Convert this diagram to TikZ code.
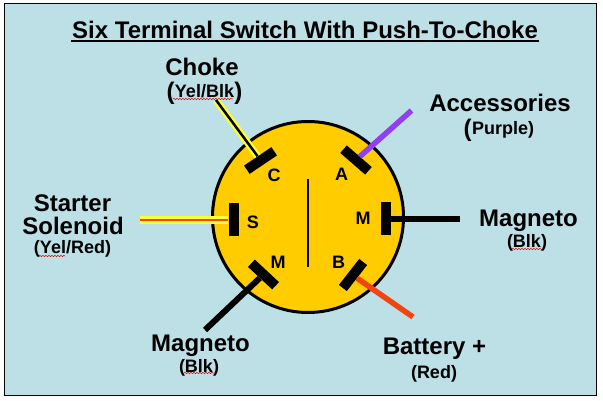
\documentclass[tikz,border=0pt]{standalone}
\usepackage{fontspec}
\setmainfont{Liberation Sans}
\usetikzlibrary{decorations.pathmorphing}
\definecolor{panelblue}{HTML}{BCE0E6}
\definecolor{switchyellow}{HTML}{FFCC00}
\definecolor{wirepurple}{HTML}{9040F0}
\definecolor{wirered}{HTML}{F04510}
\definecolor{wireyellow}{HTML}{FFFF33}
\newcommand{\spellmark}[3]{\draw[red!80!black, line width=0.5pt, decorate, decoration={snake, amplitude=0.6pt, segment length=3pt}] (#1,#3) -- (#2,#3);}
\tikzset{
	x=1pt, y=-1pt,
	bar/.style={fill=black, minimum width=33pt, minimum height=10pt, inner sep=0pt},
	term/.style={font=\fontsize{18}{18}\bfseries\selectfont, inner sep=0pt, text height=13pt, text depth=0pt},
	biglabel/.style={font=\fontsize{24}{24}\bfseries\selectfont, inner sep=0pt, text height=17pt, text depth=0pt},
	smalllabel/.style={font=\fontsize{18}{18}\bfseries\selectfont, inner sep=0pt, text height=13pt, text depth=0pt},
	wire/.style={line width=5.5pt},
}

\begin{document}
\begin{tikzpicture}
	\useasboundingbox (0,0) rectangle (603,401);
	\draw[fill=panelblue, line width=1pt] (4,3.5) rectangle (596.5,395);
	\node[biglabel] (title) at (305,30) {Six Terminal Switch With Push-To-Choke};
	\draw[line width=2pt] (71,41) -- (539,41);
	
	\node[circle, draw, fill=switchyellow, line width=3pt, minimum size=191pt, inner sep=0pt] (switch) at (308,217) {};
	\draw[line width=2pt] (308,179) -- (308,267);
	
	% terminals
	\node[bar, rotate=34] (barC) at (260.5,160.5) {};
	\node[bar, rotate=-41] (barA) at (356,160) {};
	\node[bar, rotate=90] (barS) at (233.5,220) {};
	\node[bar, rotate=90] (barMr) at (385.5,219) {};
	\node[bar, rotate=-43] (barMl) at (263.5,274.5) {};
	\node[bar, rotate=52] (barB) at (353,275) {};
	\node[term] (termC) at (274,175) {C};
	\node[term] (termA) at (341.5,174) {A};
	\node[term] (termS) at (253,222) {S};
	\node[term] (termMr) at (363,218) {M};
	\node[term] (termMl) at (278,262) {M};
	\node[term] (termB) at (338.5,262) {B};
	
	% free wire ends
	\coordinate (endC) at (216,100);
	\coordinate (endA) at (411.5,110.5);
	\coordinate (endS) at (140,220);
	\coordinate (endMr) at (460,219);
	\coordinate (endMl) at (205,330);
	\coordinate (endB) at (413,317);
	
	\draw[wire, line width=7pt, wireyellow] (barC.north) -- (endC);
	\draw[line width=2.5pt] (barC.north) -- (endC);
	\draw[wire, line width=8pt, wireyellow] (barS.north) -- (endS);
	\draw[line width=2pt, wirered] (barS.north) -- (endS);
	\draw[wire, wirepurple] (barA) -- (endA);
	\draw[wire, line width=6pt] (barMr) -- (endMr);
	\draw[wire, line width=6pt] (barMl) -- (endMl);
	\draw[wire, wirered] (barB.south) -- (endB);
	
	% labels
	\node[biglabel] (choke) at (202,67) {Choke};
	\node[smalllabel] (chokeY) at (204.5,91.5) {Yel/Blk};
	\node[biglabel, anchor=east] (chokeL) at (chokeY.west) {(};
	\node[biglabel, anchor=west] (chokeR) at (chokeY.east) {)};
	\node[biglabel] (acc) at (500,103.5) {Accessories};
	\node[smalllabel] (accP) at (503,128) {Purple)};
	\node[biglabel, anchor=east] (accL) at (accP.west) {(};
	\node[biglabel] (starter) at (72.5,203) {Starter};
	\node[biglabel] (solenoid) at (73,226.5) {Solenoid};
	\node[smalllabel] (solY) at (72.5,246.5) {(Yel/Red)};
	\node[biglabel] (magR) at (528.5,218) {Magneto};
	\node[smalllabel] (magRb) at (527,241) {(Blk)};
	\node[biglabel] (magL) at (200.5,343) {Magneto};
	\node[smalllabel] (magLb) at (199,366) {(Blk)};
	\node[biglabel] (batt) at (434.5,346) {Battery +};
	\node[smalllabel] (battR) at (434,372) {(Red)};
	
	% spelling marks
	\spellmark{173}{233}{99}
	\spellmark{39}{65}{256}
	\spellmark{512}{543}{249}
	\spellmark{184}{214}{373}
\end{tikzpicture}
\end{document}
